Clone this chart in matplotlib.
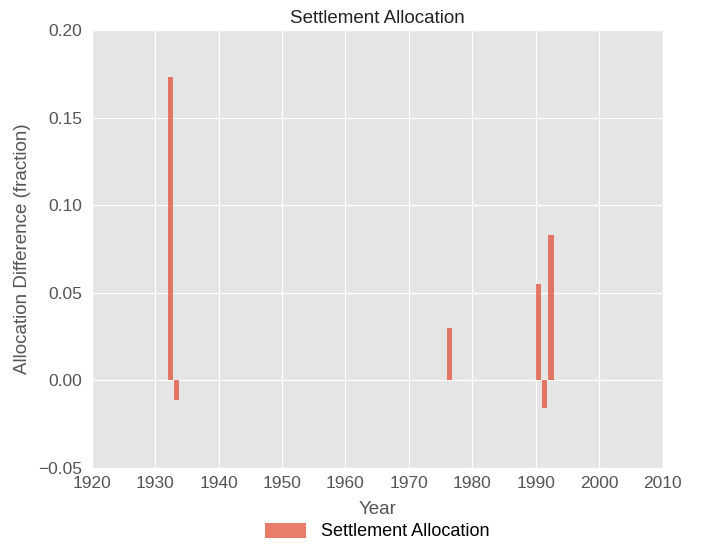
import matplotlib
matplotlib.use("Agg")
import matplotlib.pyplot as plt

plt.style.use("ggplot")
plt.rcParams['font.family'] = ['Liberation Sans', 'DejaVu Sans']

years = [1932, 1933, 1976, 1990, 1991, 1992]
diffs = [0.173, -0.011, 0.030, 0.055, -0.016, 0.083]

fig = plt.figure(figsize=(7.05, 5.46), dpi=100)
ax = fig.add_subplot(111)
fig.subplots_adjust(left=0.130, right=0.940, top=0.945, bottom=0.143)

ax.bar(years, diffs, width=0.8, align='edge', color='#E24A33', alpha=0.72,
       label='Settlement Allocation')

ax.set_xlim(1920, 2010)
ax.set_ylim(-0.05, 0.20)
ax.set_xticks(range(1920, 2011, 10))
ax.set_yticks([-0.05, 0.0, 0.05, 0.10, 0.15, 0.20])
ax.set_yticklabels(['\u22120.05', '0.00', '0.05', '0.10', '0.15', '0.20'])
ax.tick_params(axis='both', labelsize=12.5, colors='#555555', length=0)
ax.tick_params(axis='x', pad=6)
ax.tick_params(axis='y', pad=7)

ax.set_title('Settlement Allocation', fontsize=13.5, color='#222222', pad=5)
ax.set_xlabel('Year', fontsize=13.5, color='#555555', labelpad=7)
ax.set_ylabel('Allocation Difference (fraction)', fontsize=13.5, color='#555555', labelpad=5)

ax.legend(loc='upper center', bbox_to_anchor=(0.5, -0.088), frameon=False,
          fontsize=13, handlelength=2.3, handleheight=0.9)

fig.savefig('out.png', dpi=100)
